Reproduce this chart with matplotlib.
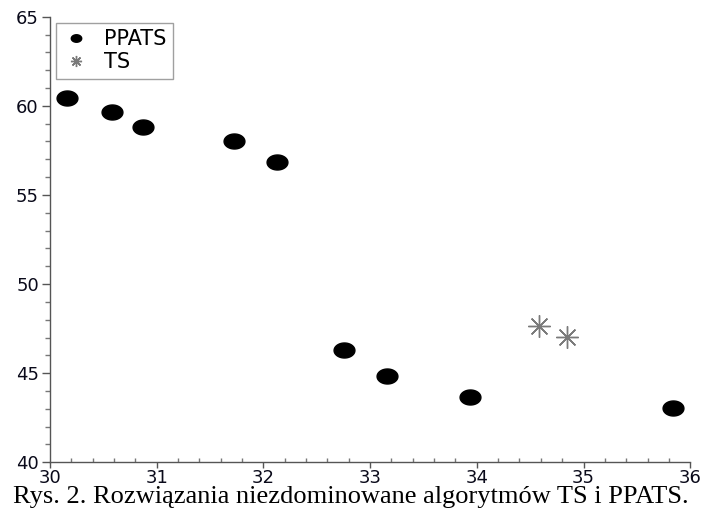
import matplotlib
matplotlib.use("Agg")
import matplotlib.pyplot as plt
import numpy as np
from matplotlib.path import Path
from matplotlib.ticker import MultipleLocator

# Data
ppats_x = [30.16, 30.58, 30.87, 31.72, 32.13, 32.76, 33.16, 33.94, 35.84]
ppats_y = [60.42, 59.63, 58.82, 58.03, 56.85, 46.28, 44.85, 43.66, 43.07]
ts_x = [34.58, 34.85]
ts_y = [47.63, 47.03]
x_ticks = [30, 31, 32, 33, 34, 35, 36]
y_ticks = [40, 45, 50, 55, 60, 65]
caption = "Rys. 2. Rozwiązania niezdominowane algorytmów TS i PPATS."

# wide ellipse marker for PPATS
t = np.linspace(0, 2 * np.pi, 60)
ellipse = Path(np.column_stack([np.cos(t), 0.72 * np.sin(t)]), closed=True)

fig = plt.figure(figsize=(7.02, 5.11), dpi=100)
ax = fig.add_axes([0.0712, 0.0953, 0.912, 0.872])

ax.plot(ppats_x, ppats_y, linestyle="none", marker=ellipse, markersize=15,
        color="black", label="PPATS")
ax.plot(ts_x, ts_y, linestyle="none", marker=(8, 2, 0), markersize=16,
        markeredgewidth=1.0, color="#7a7a7a", label="TS")

ax.set_xlim(30, 36)
ax.set_ylim(40, 65)
ax.set_xticks(x_ticks)
ax.set_yticks(y_ticks)
ax.xaxis.set_minor_locator(MultipleLocator(0.2))
ax.yaxis.set_minor_locator(MultipleLocator(1))

for side in ["top", "right"]:
    ax.spines[side].set_visible(False)
for side in ["left", "bottom"]:
    ax.spines[side].set_color("#555555")
    ax.spines[side].set_linewidth(1.0)

ax.tick_params(axis="y", which="major", direction="out", length=6, width=1,
               color="#555555", labelsize=13, labelcolor="#0a0a1a", pad=2)
ax.tick_params(axis="y", which="minor", direction="out", length=3.5, width=1,
               color="#777777")
ax.tick_params(axis="x", which="major", direction="out", length=4, width=1,
               color="#555555", labelsize=13, labelcolor="#0a0a1a", pad=1)
ax.tick_params(axis="x", which="minor", direction="in", length=3, width=1,
               color="#777777")

leg = ax.legend(loc="upper left", bbox_to_anchor=(0.0, 1.0), fontsize=15,
                markerscale=0.5, frameon=True, fancybox=False,
                handletextpad=0.7, borderpad=0.3, labelspacing=0.15,
                handlelength=1.3, borderaxespad=0.3)
leg.get_frame().set_edgecolor("#888888")
leg.get_frame().set_linewidth(1.0)

# caption under the chart, anchored on its baseline so descenders stay inside
fig.text(0.5, 0.016, caption, ha="center", va="baseline",
         family="Liberation Serif", fontsize=19)

fig.savefig("out.png", dpi=100)
